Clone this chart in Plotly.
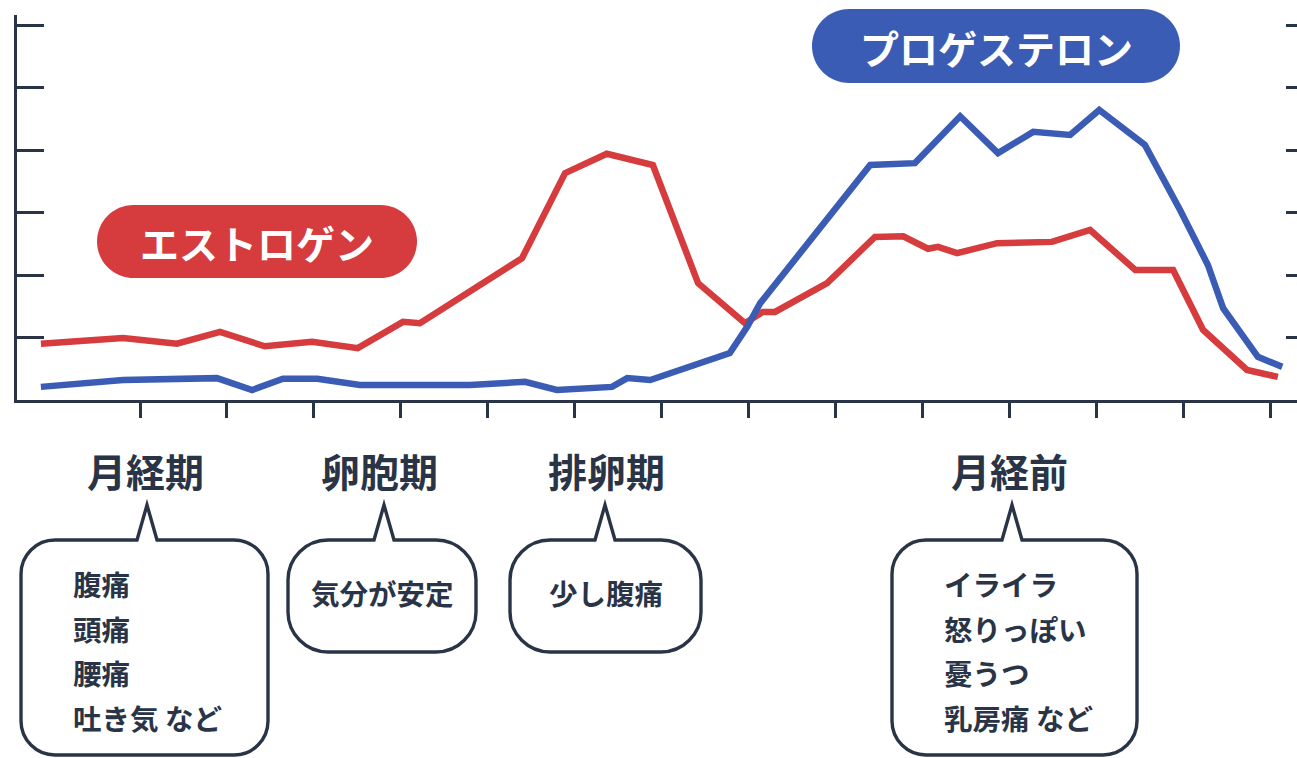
import plotly.graph_objects as go

# Hormone levels over one 28-day cycle (arbitrary units)
estrogen_day = [-0.28, 1.61, 2.85, 3.84, 4.87, 5.96, 7.01, 8.05, 8.44, 10.79, 11.78,
                12.74, 13.80, 14.84, 15.92, 16.33, 16.61, 17.81, 18.91, 19.56, 20.13,
                20.36, 20.80, 21.72, 22.98, 23.86, 24.90, 25.77, 26.46, 27.47, 28.18]
estrogen_level = [0.90, 0.99, 0.90, 1.09, 0.86, 0.93, 0.83, 1.25, 1.23, 2.27, 3.63,
                  3.94, 3.76, 1.87, 1.23, 1.41, 1.41, 1.87, 2.61, 2.62, 2.42,
                  2.45, 2.35, 2.51, 2.53, 2.72, 2.08, 2.08, 1.12, 0.48, 0.37]

progesterone_day = [-0.28, 1.61, 3.77, 4.58, 5.29, 6.08, 7.06, 9.59, 10.86, 11.59,
                    12.86, 13.21, 13.74, 15.57, 15.97, 16.27, 18.80, 19.83, 20.87,
                    21.74, 22.55, 23.40, 24.07, 25.12, 25.93, 26.57, 26.92, 27.72, 28.28]
progesterone_level = [0.21, 0.32, 0.35, 0.16, 0.34, 0.34, 0.24, 0.24, 0.29, 0.16,
                      0.21, 0.35, 0.32, 0.75, 1.17, 1.55, 3.76, 3.79, 4.54,
                      3.95, 4.29, 4.24, 4.64, 4.08, 3.04, 2.16, 1.47, 0.69, 0.53]

x_ticks = list(range(2, 29, 2))
y_ticks = [1, 2, 3, 4, 5, 6]

series_names = ["エストロゲン", "プロゲステロン"]

phase_names = ["月経期", "卵胞期", "排卵期", "月経前"]
phase_symptoms = [
    ["腹痛", "頭痛", "腰痛", "吐き気 など"],
    ["気分が安定"],
    ["少し腹痛"],
    ["イライラ", "怒りっぽい", "憂うつ", "乳房痛 など"],
]

RED = "#D63B3D"
BLUE = "#3B5CB4"
INK = "#2A3447"
FONT = "Noto Sans CJK JP"

W, H = 1297, 758
PL, PR, PT, PB = 17, 1297, 15, 400  # plot area in page pixels


def px(x):
    return (x - PL) / (PR - PL)


def py(y):
    return (PB - y) / (PB - PT)


def path_from(points_cmds):
    out = []
    for cmd, pts in points_cmds:
        coords = " ".join(f"{px(x):.5f},{py(y):.5f}" for x, y in pts)
        out.append(f"{cmd} {coords}" if coords else cmd)
    return " ".join(out)


K = 0.5523


def rounded_box(x0, y0, x1, y1, r, pointer=None):
    """Rounded rectangle (pixel coords, y down) with an optional spike on the top edge."""
    cmds = [("M", [(x0 + r, y0)])]
    if pointer:
        bl, (ax, ay), br = pointer
        cmds += [("L", [(bl, y0)]), ("L", [(ax, ay)]), ("L", [(br, y0)])]
    cmds += [
        ("L", [(x1 - r, y0)]),
        ("C", [(x1 - r + K * r, y0), (x1, y0 + r - K * r), (x1, y0 + r)]),
        ("L", [(x1, y1 - r)]),
        ("C", [(x1, y1 - r + K * r), (x1 - r + K * r, y1), (x1 - r, y1)]),
        ("L", [(x0 + r, y1)]),
        ("C", [(x0 + r - K * r, y1), (x0, y1 - r + K * r), (x0, y1 - r)]),
        ("L", [(x0, y0 + r)]),
        ("C", [(x0, y0 + r - K * r), (x0 + r - K * r, y0), (x0 + r, y0)]),
        ("Z", []),
    ]
    return path_from(cmds)


fig = go.Figure()

fig.add_trace(go.Scatter(
    x=estrogen_day, y=estrogen_level, mode="lines", name=series_names[0],
    line=dict(color=RED, width=6.5), hoverinfo="skip",
))
fig.add_trace(go.Scatter(
    x=progesterone_day, y=progesterone_level, mode="lines", name=series_names[1],
    line=dict(color=BLUE, width=6.5), hoverinfo="skip",
))
# empty trace so the right-hand tick axis is drawn
fig.add_trace(go.Scatter(x=[None], y=[None], yaxis="y2", showlegend=False, hoverinfo="skip"))

shapes = []
annotations = []

# Series name pills
pills = [
    (series_names[0], RED, 97, 205, 417, 278),
    (series_names[1], BLUE, 812, 9, 1180, 83),
]
for text, color, x0, y0, x1, y1 in pills:
    r = (y1 - y0) / 2
    shapes.append(dict(type="path", xref="paper", yref="paper", layer="above",
                       path=rounded_box(x0, y0, x1, y1, r),
                       fillcolor=color, line=dict(width=0)))
    annotations.append(dict(
        xref="paper", yref="paper", x=px((x0 + x1) / 2), y=py((y0 + y1) / 2 + 1),
        text=text, showarrow=False, xanchor="center", yanchor="middle",
        font=dict(family=FONT, size=39, color="white", weight=700),
    ))

# Phase headings and symptom callouts
phase_label_x = [145, 379, 606, 1009]
callouts = [
    # x0, y0, x1, y1, radius, spike apex x
    (21, 540, 268, 755, 34, 147),
    (288, 540, 476, 652, 40, 384),
    (510, 540, 701, 652, 40, 605),
    (892, 540, 1137, 755, 34, 1012),
]
body_rows = [583, 628, 672, 717]
for i, name in enumerate(phase_names):
    annotations.append(dict(
        xref="paper", yref="paper", x=px(phase_label_x[i]), y=py(470),
        text=name, showarrow=False, xanchor="center", yanchor="middle",
        font=dict(family=FONT, size=39, color=INK, weight=700),
    ))
    x0, y0, x1, y1, r, ax = callouts[i]
    shapes.append(dict(type="path", xref="paper", yref="paper", layer="above",
                       path=rounded_box(x0, y0, x1, y1, r,
                                        pointer=(ax - 10, (ax, 505), ax + 10)),
                       fillcolor="white", line=dict(color=INK, width=3.4)))
    lines = phase_symptoms[i]
    if len(lines) == 1:
        annotations.append(dict(
            xref="paper", yref="paper", x=px((x0 + x1) / 2), y=py(593),
            text=lines[0], showarrow=False, xanchor="center", yanchor="middle",
            font=dict(family=FONT, size=28.5, color=INK, weight=700),
        ))
    else:
        left = x0 + 50
        for j, t in enumerate(lines):
            annotations.append(dict(
                xref="paper", yref="paper", x=px(left), y=py(body_rows[j]),
                text=t, showarrow=False, xanchor="left", yanchor="middle",
                font=dict(family=FONT, size=28.5, color=INK, weight=700),
            ))

fig.update_layout(
    width=W, height=H,
    margin=dict(l=PL, r=W - PR, t=PT, b=H - PB, pad=0),
    paper_bgcolor="white", plot_bgcolor="white",
    showlegend=False,
    xaxis=dict(
        range=[-0.83, 28.62], tickvals=x_ticks, ticks="outside", ticklen=15,
        tickwidth=3, tickcolor=INK, showticklabels=False, showline=True,
        linecolor=INK, linewidth=3, showgrid=False, zeroline=False, fixedrange=True,
    ),
    yaxis=dict(
        range=[0, 6.16], tickvals=y_ticks, ticks="inside", ticklen=27,
        tickwidth=3, tickcolor=INK, showticklabels=False, showline=True,
        linecolor=INK, linewidth=3, showgrid=False, zeroline=False, fixedrange=True,
    ),
    yaxis2=dict(
        range=[0, 6.16], tickvals=y_ticks, ticks="inside", ticklen=11,
        tickwidth=3, tickcolor=INK, showticklabels=False, showline=False,
        showgrid=False, zeroline=False, overlaying="y", side="right", fixedrange=True,
    ),
    shapes=shapes,
    annotations=annotations,
)

fig.write_html("out.html", config={"displayModeBar": False})
